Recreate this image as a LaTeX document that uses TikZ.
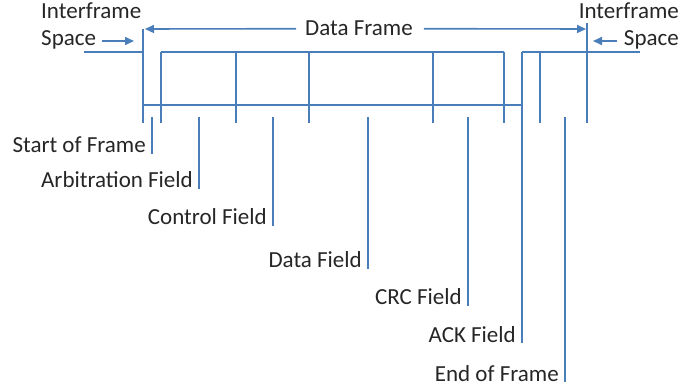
\documentclass[tikz,border=0pt]{standalone}
\usepackage{fontspec}
\setmainfont{Carlito}
\usetikzlibrary{arrows.meta}
\definecolor{sig}{HTML}{4A7EBB}
\definecolor{ink}{HTML}{262626}
\begin{document}
\begin{tikzpicture}[x=1pt,y=-1pt,
  wire/.style={draw=sig,line width=1.6pt},
  lbl/.style={text=ink,font=\fontsize{23}{26}\selectfont,inner sep=0pt},
  tip/.style={-{Triangle[length=9pt,width=8pt]}}]
\useasboundingbox (0,0) rectangle (699,390);

% signal trace: both bus levels of the frame
\draw[wire] (84,52) -- (143,52);
\draw[wire] (161,52) -- (504,52);
\draw[wire] (522,52) -- (640,52);
\draw[wire] (143,105) -- (522,105);

% field boundaries
\foreach \x/\t in {143/29,161/52,236/52,309/52,433/52,504/52,522/52,540/52,587/23}
  \draw[wire] (\x,\t) -- (\x,123);

% top texts
\node[lbl,anchor=base west] (ifsl1) at (41,19) {Interframe};
\node[lbl,anchor=base west] (ifsl2) at (41,46) {Space};
\node[lbl,anchor=base east] (ifsr1) at (679,19) {Interframe};
\node[lbl,anchor=base east] (ifsr2) at (679,46) {Space};
\node[lbl,anchor=base] (df) at (359,36) {Data Frame};

% data frame span
\coordinate (dfl) at (145,29);
\coordinate (dfr) at (586,29);
\draw[wire,tip] (df.west) ++(-9pt,0) coordinate (dfa) -- (dfl);
\draw[wire,tip] (df.east) ++(11pt,0) coordinate (dfb) -- (dfr);

% interframe arrows
\coordinate (ia) at (102,41);
\coordinate (ib) at (134,41);
\coordinate (ic) at (617,41);
\coordinate (id) at (593,41);
\draw[wire,tip] (ia) -- (ib);
\draw[wire,tip] (ic) -- (id);

% field labels with their leaders
\foreach \n/\x/\b/\txt in {sof/152/153/Start of Frame,
                           arb/199/188/Arbitration Field,
                           ctl/273/225/Control Field,
                           dat/368/268/Data Field,
                           crc/468/305/CRC Field,
                           ack/522/342/ACK Field,
                           eof/565/381/End of Frame}{
  \node[lbl,anchor=base east] (\n) at (\x-6,\b) {\txt};
  \coordinate (\n t) at (\x,117);
  \coordinate (\n b) at (\x,\b+1);
  \draw[wire] (\n t) -- (\n b);
}
\end{tikzpicture}
\end{document}
